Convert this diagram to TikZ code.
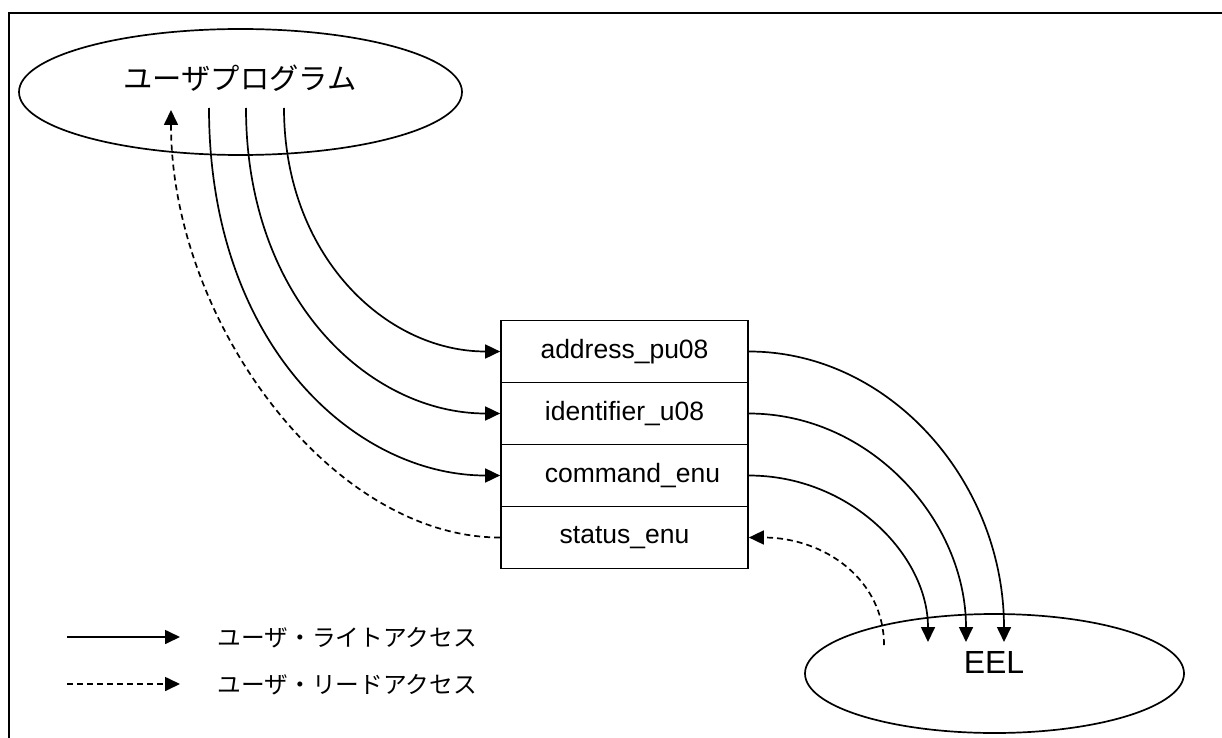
\documentclass[tikz,border=0pt]{standalone}
\usepackage{fontspec}
\setmainfont{Liberation Sans}
\newfontfamily\jp{Noto Sans CJK JP}
\usetikzlibrary{shapes.geometric,arrows.meta}
\begin{document}
\begin{tikzpicture}[x=1pt,y=-1pt,
  line width=1.7pt,
  tip/.style={-{Triangle[length=15pt,width=14pt]}},
  wr/.style={tip},
  rd/.style={tip,dash pattern=on 6pt off 4pt},
  oval/.style={draw,ellipse,inner sep=0pt},
  row/.style={draw,rectangle,minimum width=247pt,minimum height=62pt,inner sep=0pt,font=\fontsize{26.5}{31}\selectfont},
  jtext/.style={inner sep=0pt,font=\jp\fontsize{29.3}{34}\selectfont},
  ltext/.style={inner sep=0pt,anchor=west,font=\jp\fontsize{23.7}{28}\selectfont}]
\useasboundingbox (0,0) rectangle (1222,738);
\draw[line width=2pt] (9,738) -- (9,13) -- (1222,13);
% ellipses
\node[oval,minimum width=443pt,minimum height=126pt] (up) at (240.5,92) {};
\node[jtext] (uplabel) at (240,78) {ユーザプログラム};
\node[oval,minimum width=379pt,minimum height=119pt] (eel) at (994.5,673.5) {};
\node[inner sep=0pt,font=\fontsize{32}{38}\selectfont] (eellabel) at (994,662) {EEL};
% rows
\node[row] (r1) at (624.5,351.5) {address\_pu08};
\node[row] (r2) at (624.5,413.5) {identifier\_u08};
\node[row] (r3) at (624.5,475.5) {\hspace{16pt}command\_enu};
\node[row] (r4) at (624.5,537.5) {status\_enu};
% start coordinates
\coordinate (s1) at (284,108);
\coordinate (s2) at (246,108);
\coordinate (s3) at (209,108);
\coordinate (su) at (171,110);
\coordinate (e1) at (1004,642);
\coordinate (e2) at (966,642);
\coordinate (e3) at (928,642);
\coordinate (es) at (884,645);
% writes from user program
\draw[wr] (s1) .. controls (284,255) and (385,351.5) .. (r1.west);
\draw[wr] (s2) .. controls (246,300) and (370,413.5) .. (r2.west);
\draw[wr] (s3) .. controls (209,345) and (355,475.5) .. (r3.west);
% read to user program
\draw[rd] (r4.west) .. controls (330,537.5) and (171,320) .. (su);
% writes to EEL
\draw[wr] (r1.east) .. controls (890,351.5) and (1004,482) .. (e1);
\draw[wr] (r2.east) .. controls (870,413.5) and (966,520) .. (e2);
\draw[wr] (r3.east) .. controls (850,475.5) and (928,555) .. (e3);
% read from EEL
\draw[rd] (es) .. controls (884,580) and (825,537.5) .. (r4.east);
% legend
\coordinate (la) at (67,637);
\coordinate (lb) at (180,637);
\coordinate (lc) at (67,684);
\coordinate (ld) at (180,684);
\draw[wr] (la) -- (lb);
\draw[rd] (lc) -- (ld);
\node[ltext] (lt1) at (217,638) {ユーザ・ライトアクセス};
\node[ltext] (lt2) at (217,685) {ユーザ・リードアクセス};
\end{tikzpicture}
\end{document}
